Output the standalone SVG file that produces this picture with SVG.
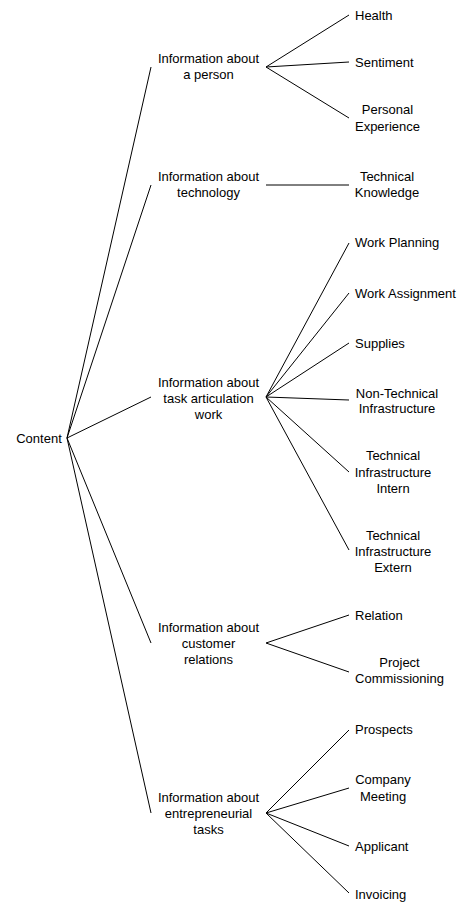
<svg xmlns="http://www.w3.org/2000/svg" width="462" height="902" viewBox="0 0 462 902">
<style>
text{font-family:"Liberation Sans",Arial,Helvetica,sans-serif;font-size:13px;fill:#000;text-anchor:middle}
.s{text-anchor:start}
line{stroke:#000;stroke-width:1}
</style>
<rect width="462" height="902" fill="#fff"/>
<g id="connectors">
<line x1="67" y1="438" x2="151" y2="67"/>
<line x1="67" y1="438" x2="151" y2="185"/>
<line x1="67" y1="438" x2="151" y2="397"/>
<line x1="67" y1="438" x2="151" y2="643"/>
<line x1="67" y1="438" x2="151" y2="813"/>
<line x1="266" y1="67" x2="349" y2="15"/>
<line x1="266" y1="67" x2="349" y2="62"/>
<line x1="266" y1="67" x2="349" y2="118"/>
<line x1="266" y1="185" x2="349" y2="185"/>
<line x1="266" y1="397" x2="349" y2="243"/>
<line x1="266" y1="397" x2="349" y2="293"/>
<line x1="266" y1="397" x2="349" y2="343"/>
<line x1="266" y1="397" x2="349" y2="400"/>
<line x1="266" y1="397" x2="349" y2="472"/>
<line x1="266" y1="397" x2="349" y2="550"/>
<line x1="266" y1="643" x2="349" y2="615"/>
<line x1="266" y1="643" x2="349" y2="672"/>
<line x1="266" y1="813" x2="349" y2="730"/>
<line x1="266" y1="813" x2="349" y2="788"/>
<line x1="266" y1="813" x2="349" y2="846"/>
<line x1="266" y1="813" x2="349" y2="893"/>
</g>
<g id="content"><text x="39" y="443">Content</text></g>
<g id="person"><text x="208.5" y="62.5">Information about</text><text x="208.5" y="78.5">a person</text></g>
<g id="technology"><text x="208.5" y="180.5">Information about</text><text x="208.5" y="196.5">technology</text></g>
<g id="task"><text x="208.5" y="386.5">Information about</text><text x="208.5" y="402.5">task articulation</text><text x="208.5" y="418.5">work</text></g>
<g id="customer"><text x="208.5" y="631.5">Information about</text><text x="208.5" y="647.5">customer</text><text x="208.5" y="663.5">relations</text></g>
<g id="entrepreneurial"><text x="208.5" y="801.5">Information about</text><text x="208.5" y="817.5">entrepreneurial</text><text x="208.5" y="833.5">tasks</text></g>
<g id="health"><text class="s" x="355" y="19.5">Health</text></g>
<g id="sentiment"><text class="s" x="355" y="66.5">Sentiment</text></g>
<g id="personal-experience"><text x="387.5" y="113.5">Personal</text><text x="387.5" y="130.5">Experience</text></g>
<g id="technical-knowledge"><text x="387" y="180.5">Technical</text><text x="387" y="196.5">Knowledge</text></g>
<g id="work-planning"><text class="s" x="355" y="246.5">Work Planning</text></g>
<g id="work-assignment"><text class="s" x="355" y="297.5">Work Assignment</text></g>
<g id="supplies"><text class="s" x="355" y="347.5">Supplies</text></g>
<g id="non-technical-infrastructure"><text x="397" y="397.5">Non-Technical</text><text x="397" y="412.5">Infrastructure</text></g>
<g id="technical-infrastructure-intern"><text x="393" y="459.5">Technical</text><text x="393" y="476.5">Infrastructure</text><text x="393" y="492.5">Intern</text></g>
<g id="technical-infrastructure-extern"><text x="393" y="539.5">Technical</text><text x="393" y="555.5">Infrastructure</text><text x="393" y="571.5">Extern</text></g>
<g id="relation"><text class="s" x="355" y="619.5">Relation</text></g>
<g id="project-commissioning"><text x="399.5" y="666.5">Project</text><text x="399.5" y="682.5">Commissioning</text></g>
<g id="prospects"><text class="s" x="355" y="733.5">Prospects</text></g>
<g id="company-meeting"><text x="383" y="783.5">Company</text><text x="383" y="800.5">Meeting</text></g>
<g id="applicant"><text class="s" x="355" y="850.5">Applicant</text></g>
<g id="invoicing"><text class="s" x="355" y="899">Invoicing</text></g>
</svg>
